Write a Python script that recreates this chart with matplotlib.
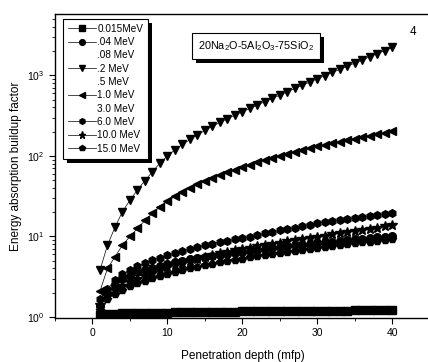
import matplotlib
matplotlib.use("Agg")
import matplotlib.pyplot as plt
import matplotlib.patheffects as pe
from matplotlib.ticker import LogLocator, MultipleLocator, NullFormatter

plt.rcParams["font.family"] = ["Liberation Sans", "DejaVu Sans"]
plt.rcParams["mathtext.fontset"] = "custom"
plt.rcParams["mathtext.rm"] = "Liberation Sans"
plt.rcParams["mathtext.it"] = "Liberation Sans"

# penetration depth (mfp)
depth = list(range(1, 41))

# energy absorption buildup factors
b_0015 = [1.05, 1.09, 1.10, 1.11, 1.11, 1.12, 1.12, 1.13, 1.13, 1.13,
          1.14, 1.14, 1.14, 1.15, 1.15, 1.15, 1.16, 1.16, 1.16, 1.17,
          1.17, 1.17, 1.18, 1.18, 1.18, 1.18, 1.19, 1.19, 1.19, 1.19,
          1.20, 1.20, 1.20, 1.20, 1.21, 1.21, 1.21, 1.21, 1.22, 1.22]
b_004 = [1.35, 2.00, 2.50, 2.92, 3.27, 3.57, 3.85, 4.10, 4.35, 4.57,
         4.79, 4.99, 5.19, 5.38, 5.57, 5.75, 5.94, 6.12, 6.31, 6.49,
         6.67, 6.85, 7.03, 7.21, 7.40, 7.57, 7.74, 7.93, 8.11, 8.30,
         8.47, 8.65, 8.83, 9.02, 9.20, 9.40, 9.57, 9.75, 9.93, 10.1]
b_02 = [3.8, 7.8, 13.0, 20.4, 28.2, 37.8, 49.5, 63.8, 81.3, 100,
        119, 139, 160, 183, 207, 233, 261, 290, 321, 354,
        390, 430, 472, 519, 570, 627, 689, 755, 828, 908,
        995, 1089, 1191, 1303, 1426, 1560, 1706, 1866, 2037, 2223]
b_10 = [2.1, 4.0, 5.6, 7.8, 10.0, 12.6, 15.8, 19.5, 23.4, 27.5,
        31.6, 35.9, 40.3, 44.7, 49.0, 53.5, 58.0, 62.8, 67.6, 72.6,
        77.8, 83.2, 88.7, 94.4, 100, 106, 112, 118, 125, 131,
        137, 144, 150, 157, 164, 171, 179, 186, 194, 202]
b_60 = [1.66, 2.24, 2.88, 3.39, 3.85, 4.27, 4.68, 5.07, 5.47, 5.86,
        6.24, 6.61, 6.98, 7.36, 7.74, 8.13, 8.49, 8.85, 9.20, 9.55,
        9.98, 10.4, 10.9, 11.4, 11.9, 12.4, 12.9, 13.5, 14.0, 14.6,
        15.0, 15.5, 16.0, 16.4, 16.9, 17.4, 17.9, 18.3, 18.8, 19.3]
b_100 = [1.41, 1.82, 2.14, 2.43, 2.69, 2.95, 3.24, 3.55, 3.85, 4.12,
         4.42, 4.70, 4.99, 5.27, 5.56, 5.85, 6.14, 6.43, 6.71, 7.01,
         7.28, 7.55, 7.83, 8.11, 8.39, 8.69, 8.97, 9.27, 9.57, 9.89,
         10.2, 10.6, 11.0, 11.3, 11.7, 12.1, 12.5, 12.9, 13.3, 13.7]
b_150 = [1.23, 1.66, 1.95, 2.19, 2.43, 2.63, 2.83, 3.03, 3.24, 3.44,
         3.63, 3.82, 4.01, 4.20, 4.39, 4.57, 4.75, 4.94, 5.13, 5.32,
         5.51, 5.70, 5.89, 6.08, 6.28, 6.47, 6.67, 6.87, 7.06, 7.26,
         7.45, 7.64, 7.83, 8.04, 8.24, 8.43, 8.63, 8.83, 9.02, 9.20]

series = [
    ("0.015MeV", b_0015, "s"),
    (".04 MeV", b_004, "o"),
    (".08 MeV", [], None),
    (".2 MeV", b_02, "v"),
    (".5 MeV", [], None),
    ("1.0 MeV", b_10, "<"),
    ("3.0 MeV", [], None),
    ("6.0 MeV", b_60, "h"),
    ("10.0 MeV", b_100, "*"),
    ("15.0 MeV", b_150, "p"),
]

fig = plt.figure(figsize=(4.28, 3.62), dpi=100)
ax = fig.add_axes([0.1285, 0.1215, 0.876, 0.840])

for label, vals, mk in series:
    if mk is None:
        ax.plot([], [], linestyle="none", marker="none", label=label)
    else:
        ax.plot(depth[:len(vals)], vals, color="black", lw=0.5,
                marker=mk, ms=7 if mk == "*" else 5.5, mfc="black",
                mec="black", label=label)

ax.set_yscale("log")
ax.set_xlim(-5, 45)
ax.set_ylim(0.97, 5800)
ax.xaxis.set_major_locator(MultipleLocator(10))
ax.xaxis.set_minor_locator(MultipleLocator(5))
ax.yaxis.set_major_locator(LogLocator(base=10, numticks=10))
ax.yaxis.set_minor_locator(LogLocator(base=10, subs=range(2, 10), numticks=20))
ax.yaxis.set_minor_formatter(NullFormatter())
ax.tick_params(which="major", length=4, width=0.8, labelsize=7.5, color="black")
ax.tick_params(which="minor", length=2, width=0.6)
for s in ax.spines.values():
    s.set_linewidth(1.0)

ax.set_xlabel("Penetration depth (mfp)", fontsize=8.5, labelpad=8)
ax.set_ylabel("Energy absorption buildup factor", fontsize=8.5, labelpad=4)

leg = ax.legend(loc="upper left", bbox_to_anchor=(0.021, 0.984), borderaxespad=0,
                fontsize=7.2, handlelength=2.8, handletextpad=0.15, markerscale=0.75,
                labelspacing=0.33, borderpad=0.5, fancybox=False,
                edgecolor="black", framealpha=1)
frame = leg.get_frame()
frame.set_linewidth(0.8)
frame.set_path_effects([pe.SimplePatchShadow(offset=(3, -3), shadow_rgbFace="black", alpha=1),
                        pe.Normal()])

t = ax.text(0.382, 0.894, r"20Na$_2$O-5Al$_2$O$_3$-75SiO$_2$", transform=ax.transAxes,
            fontsize=7.8, ha="left", va="center",
            bbox=dict(boxstyle="square,pad=0.55", fc="white", ec="black", lw=0.8))
t.get_bbox_patch().set_path_effects([pe.SimplePatchShadow(offset=(3, -3), shadow_rgbFace="black", alpha=1),
                                     pe.Normal()])
ax.text(0.955, 0.94, "4", transform=ax.transAxes, fontsize=8.5, ha="center", va="center")

fig.savefig("out.png", dpi=100)
